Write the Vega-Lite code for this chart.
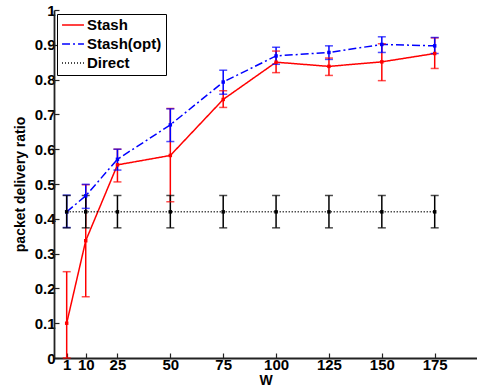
{
  "$schema": "https://vega.github.io/schema/vega-lite/v6.json",
  "width": 423,
  "height": 348,
  "autosize": {"type": "none"},
  "padding": {"left": 54, "top": 10, "right": 0, "bottom": 33},
  "background": "white",
  "config": {
    "view": {"stroke": null},
    "font": "Liberation Sans",
    "axis": {
      "grid": false,
      "domainColor": "#222222",
      "domainWidth": 1.8,
      "tickColor": "#222222",
      "tickWidth": 1.2,
      "tickSize": -5,
      "labelColor": "black",
      "labelFont": "Liberation Sans",
      "labelFontSize": 15,
      "labelFontWeight": "bold",
      "labelOverlap": false,
      "titleColor": "black",
      "titleFont": "Liberation Sans",
      "titleFontSize": 14,
      "titleFontWeight": "bold"
    }
  },
  "data": {
    "values": [
      {"W": 1, "series": "Stash", "value": 0.1, "lo": 0.0, "hi": 0.248},
      {"W": 10, "series": "Stash", "value": 0.337, "lo": 0.176, "hi": 0.498},
      {"W": 25, "series": "Stash", "value": 0.555, "lo": 0.506, "hi": 0.6},
      {"W": 50, "series": "Stash", "value": 0.582, "lo": 0.449, "hi": 0.717},
      {"W": 75, "series": "Stash", "value": 0.743, "lo": 0.72, "hi": 0.768},
      {"W": 100, "series": "Stash", "value": 0.85, "lo": 0.82, "hi": 0.882},
      {"W": 125, "series": "Stash", "value": 0.838, "lo": 0.812, "hi": 0.862},
      {"W": 150, "series": "Stash", "value": 0.851, "lo": 0.797, "hi": 0.903},
      {"W": 175, "series": "Stash", "value": 0.875, "lo": 0.832, "hi": 0.92},
      {"W": 1, "series": "Stash(opt)", "value": 0.42, "lo": 0.375, "hi": 0.468},
      {"W": 10, "series": "Stash(opt)", "value": 0.466, "lo": 0.43, "hi": 0.499},
      {"W": 25, "series": "Stash(opt)", "value": 0.571, "lo": 0.54, "hi": 0.6},
      {"W": 50, "series": "Stash(opt)", "value": 0.67, "lo": 0.622, "hi": 0.716},
      {"W": 75, "series": "Stash(opt)", "value": 0.793, "lo": 0.758, "hi": 0.827},
      {"W": 100, "series": "Stash(opt)", "value": 0.868, "lo": 0.844, "hi": 0.893},
      {"W": 125, "series": "Stash(opt)", "value": 0.878, "lo": 0.858, "hi": 0.897},
      {"W": 150, "series": "Stash(opt)", "value": 0.901, "lo": 0.878, "hi": 0.923},
      {"W": 175, "series": "Stash(opt)", "value": 0.897, "lo": 0.875, "hi": 0.921},
      {"W": 1, "series": "Direct", "value": 0.42, "lo": 0.374, "hi": 0.467},
      {"W": 10, "series": "Direct", "value": 0.42, "lo": 0.374, "hi": 0.467},
      {"W": 25, "series": "Direct", "value": 0.42, "lo": 0.374, "hi": 0.467},
      {"W": 50, "series": "Direct", "value": 0.42, "lo": 0.374, "hi": 0.467},
      {"W": 75, "series": "Direct", "value": 0.42, "lo": 0.374, "hi": 0.467},
      {"W": 100, "series": "Direct", "value": 0.42, "lo": 0.374, "hi": 0.467},
      {"W": 125, "series": "Direct", "value": 0.42, "lo": 0.374, "hi": 0.467},
      {"W": 150, "series": "Direct", "value": 0.42, "lo": 0.374, "hi": 0.467},
      {"W": 175, "series": "Direct", "value": 0.42, "lo": 0.374, "hi": 0.467}
    ]
  },
  "encoding": {
    "x": {
      "field": "W",
      "type": "quantitative",
      "scale": {"domain": [-5, 195], "nice": false, "zero": false},
      "axis": {"values": [1, 10, 25, 50, 75, 100, 125, 150, 175], "title": "W", "titlePadding": 1, "labelPadding": 4}
    }
  },
  "layer": [
    {
      "mark": {"type": "line"},
      "encoding": {
        "y": {
          "field": "value",
          "type": "quantitative",
          "scale": {"domain": [0, 1], "nice": false},
          "axis": {"values": [0, 0.1, 0.2, 0.3, 0.4, 0.5, 0.6, 0.7, 0.8, 0.9, 1], "labelOverlap": false, "labelBound": false, "format": ".1~f", "title": "packet delivery ratio", "titlePadding": 7, "labelPadding": 4}
        },
        "color": {
          "field": "series",
          "type": "nominal",
          "scale": {"domain": ["Stash", "Stash(opt)", "Direct"], "range": ["#ff0000", "#0000ff", "#000000"]},
          "legend": {
            "title": null,
            "orient": "none",
            "legendX": 3,
            "legendY": 4,
            "strokeColor": "black",
            "fillColor": "white",
            "padding": 4,
            "rowPadding": 4,
            "clipHeight": 14,
            "labelFont": "Liberation Sans",
            "labelFontSize": 15,
            "labelFontWeight": "bold",
            "labelColor": "black",
            "symbolType": "stroke",
            "symbolSize": 480,
            "labelOffset": 2
          }
        },
        "strokeDash": {
          "field": "series",
          "type": "nominal",
          "scale": {"domain": ["Stash", "Stash(opt)", "Direct"], "range": [[1, 0], [8, 3, 2, 3], [1, 2]]},
          "legend": {"title": null, "orient": "none", "legendX": 3, "legendY": 4}
        },
        "strokeWidth": {
          "field": "series",
          "type": "nominal",
          "scale": {"domain": ["Stash", "Stash(opt)", "Direct"], "range": [1.5, 1.5, 0.7]},
          "legend": {"title": null, "orient": "none", "legendX": 3, "legendY": 4}
        }
      }
    },
    {
      "mark": {"type": "rule", "strokeWidth": 1.5},
      "encoding": {
        "y": {"field": "lo", "type": "quantitative", "axis": {"values": [0, 0.1, 0.2, 0.3, 0.4, 0.5, 0.6, 0.7, 0.8, 0.9, 1], "labelOverlap": false, "labelBound": false, "format": ".1~f", "title": "packet delivery ratio", "titlePadding": 7, "labelPadding": 4}},
        "y2": {"field": "hi"},
        "color": {"field": "series", "type": "nominal", "legend": null}
      }
    },
    {
      "mark": {"type": "tick", "orient": "horizontal", "thickness": 1.5, "size": 8},
      "encoding": {
        "y": {"field": "lo", "type": "quantitative", "axis": {"values": [0, 0.1, 0.2, 0.3, 0.4, 0.5, 0.6, 0.7, 0.8, 0.9, 1], "labelOverlap": false, "labelBound": false, "format": ".1~f", "title": "packet delivery ratio", "titlePadding": 7, "labelPadding": 4}},
        "color": {"field": "series", "type": "nominal", "legend": null}
      }
    },
    {
      "mark": {"type": "tick", "orient": "horizontal", "thickness": 1.5, "size": 8},
      "encoding": {
        "y": {"field": "hi", "type": "quantitative", "axis": {"values": [0, 0.1, 0.2, 0.3, 0.4, 0.5, 0.6, 0.7, 0.8, 0.9, 1], "labelOverlap": false, "labelBound": false, "format": ".1~f", "title": "packet delivery ratio", "titlePadding": 7, "labelPadding": 4}},
        "color": {"field": "series", "type": "nominal", "legend": null}
      }
    },
    {
      "mark": {"type": "point", "shape": "square", "filled": true, "size": 12, "opacity": 1},
      "encoding": {
        "y": {"field": "value", "type": "quantitative", "axis": {"values": [0, 0.1, 0.2, 0.3, 0.4, 0.5, 0.6, 0.7, 0.8, 0.9, 1], "labelOverlap": false, "labelBound": false, "format": ".1~f", "title": "packet delivery ratio", "titlePadding": 7, "labelPadding": 4}},
        "color": {"field": "series", "type": "nominal", "legend": null}
      }
    }
  ]
}
